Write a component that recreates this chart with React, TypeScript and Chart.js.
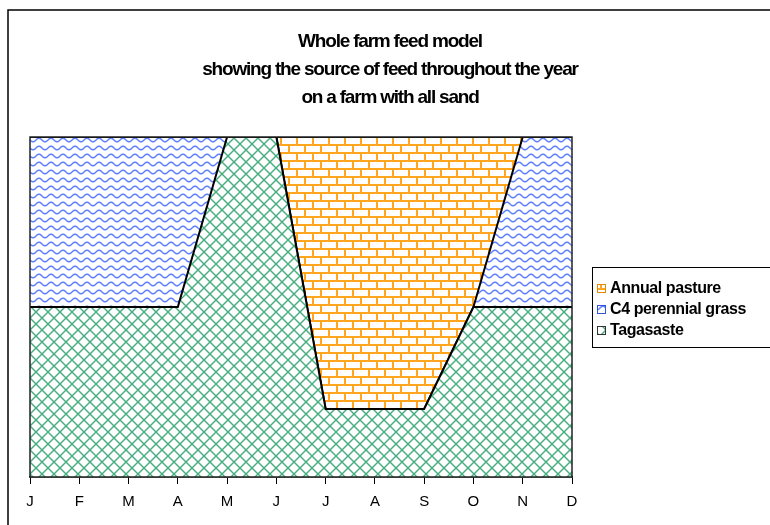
import React, { useEffect, useRef } from 'react';
import { Chart, registerables } from 'chart.js';

Chart.register(...registerables);

const months = ['J', 'F', 'M', 'A', 'M', 'J', 'J', 'A', 'S', 'O', 'N', 'D'];
const tagasaste = [50, 50, 50, 50, 100, 100, 20, 20, 20, 50, 50, 50];
const c4Grass = [50, 50, 50, 50, 0, 0, 0, 0, 0, 0, 50, 50];
const annualPasture = [0, 0, 0, 0, 0, 0, 80, 80, 80, 50, 0, 0];
const titleLines = [
  'Whole farm feed model',
  'showing the source of feed throughout the year',
  'on a farm with all sand',
];
const legendNames = ['Annual pasture', 'C4 perennial grass', 'Tagasaste'];

function makePattern(kind: string): CanvasPattern {
  const c = document.createElement('canvas');
  const g = c.getContext('2d')!;
  if (kind === 'cross') {
    c.width = 12;
    c.height = 12;
    g.fillStyle = '#ffffff';
    g.fillRect(0, 0, 12, 12);
    g.strokeStyle = '#45ad7e';
    g.lineWidth = 1.4;
    for (const k of [-12, 0, 12]) {
      g.beginPath();
      g.moveTo(k - 1, -1);
      g.lineTo(k + 13, 13);
      g.stroke();
      g.beginPath();
      g.moveTo(k + 13, -1);
      g.lineTo(k - 1, 13);
      g.stroke();
    }
  } else if (kind === 'wave') {
    c.width = 12;
    c.height = 8;
    g.fillStyle = '#ffffff';
    g.fillRect(0, 0, 12, 8);
    g.strokeStyle = '#5f80ff';
    g.lineWidth = 1.5;
    g.beginPath();
    for (let x = -1; x <= 13; x += 0.5) {
      const y = 4 - 1.8 * Math.sin((2 * Math.PI * x) / 12);
      if (x === -1) g.moveTo(x, y);
      else g.lineTo(x, y);
    }
    g.stroke();
  } else {
    c.width = 16;
    c.height = 16;
    g.fillStyle = '#ffffff';
    g.fillRect(0, 0, 16, 16);
    g.fillStyle = '#ffa51f';
    g.fillRect(0, 0, 16, 2);
    g.fillRect(0, 8, 16, 2);
    g.fillRect(0, 0, 2, 8);
    g.fillRect(8, 8, 2, 8);
  }
  return g.createPattern(c, 'repeat')!;
}

export default function App() {
  const ref = useRef<HTMLCanvasElement | null>(null);

  useEffect(() => {
    document.body.style.margin = '0';
    const canvas = ref.current!;
    const crossP = makePattern('cross');
    const waveP = makePattern('wave');
    const brickP = makePattern('brick');
    const legendFills = [brickP, waveP, crossP];
    const legendStrokes = ['#e68a00', '#3355dd', '#333333'];

    const decor = {
      id: 'decor',
      beforeDraw(chart: any) {
        const ctx = chart.ctx;
        ctx.save();
        ctx.fillStyle = '#ffffff';
        ctx.fillRect(0, 0, chart.width, chart.height);
        ctx.restore();
      },
      afterDraw(chart: any) {
        const ctx = chart.ctx;
        const a = chart.chartArea;
        ctx.save();
        // outer frame
        ctx.strokeStyle = '#000000';
        ctx.lineWidth = 1.5;
        ctx.strokeRect(8, 10, 900, 700);
        // plot border
        ctx.strokeStyle = '#222222';
        ctx.lineWidth = 1.5;
        ctx.strokeRect(a.left, a.top, a.right - a.left, a.bottom - a.top);
        // title
        ctx.fillStyle = '#000000';
        ctx.font = 'bold 19px "Liberation Sans", Arial, sans-serif';
        ctx.textAlign = 'center';
        ctx.textBaseline = 'middle';
        (ctx as any).letterSpacing = '-1.2px';
        const ty = [42, 70, 98];
        titleLines.forEach((t, i) => ctx.fillText(t, 390, ty[i]));
        (ctx as any).letterSpacing = '0px';
        // legend
        ctx.lineWidth = 1;
        ctx.strokeStyle = '#000000';
        ctx.strokeRect(592.5, 267.5, 300, 80);
        ctx.font = 'bold 16px "Liberation Sans", Arial, sans-serif';
        (ctx as any).letterSpacing = '-0.4px';
        ctx.textAlign = 'left';
        const ly = [288, 309, 330];
        legendNames.forEach((n, i) => {
          ctx.fillStyle = legendFills[i];
          ctx.fillRect(597, ly[i] - 4, 9, 9);
          ctx.strokeStyle = legendStrokes[i];
          ctx.strokeRect(597.5, ly[i] - 3.5, 8, 8);
          ctx.fillStyle = '#000000';
          ctx.fillText(n, 610, ly[i] + 1);
        });
        ctx.restore();
      },
    };

    const chart = new Chart(canvas, {
      type: 'line',
      data: {
        labels: months,
        datasets: [
          {
            label: 'Tagasaste',
            data: tagasaste,
            backgroundColor: crossP,
            borderColor: '#000000',
            borderWidth: 2,
            fill: 'origin',
            pointRadius: 0,
            tension: 0,
          },
          {
            label: 'C4 perennial grass',
            data: c4Grass,
            backgroundColor: waveP,
            borderColor: '#000000',
            borderWidth: 2,
            fill: '-1',
            pointRadius: 0,
            tension: 0,
          },
          {
            label: 'Annual pasture',
            data: annualPasture,
            backgroundColor: brickP,
            borderColor: '#000000',
            borderWidth: 2,
            fill: '-1',
            pointRadius: 0,
            tension: 0,
          },
        ],
      },
      options: {
        responsive: false,
        animation: false,
        layout: { padding: { left: 30, right: 198, top: 137, bottom: 5 } },
        plugins: {
          legend: { display: false },
          title: { display: false },
          tooltip: { enabled: false },
        },
        scales: {
          x: {
            offset: false,
            grid: {
              display: true,
              drawOnChartArea: false,
              drawTicks: true,
              tickLength: 7,
              color: '#000000',
            },
            border: { display: true, color: '#000000', width: 1.5 },
            ticks: {
              autoSkip: false,
              maxRotation: 0,
              padding: 9,
              color: '#000000',
              font: { family: '"Liberation Sans", Arial, sans-serif', size: 15 },
            },
          },
          y: {
            display: false,
            stacked: true,
            min: 0,
            max: 100,
          },
        },
      },
      plugins: [decor],
    });

    return () => chart.destroy();
  }, []);

  return (
    <div style={{ width: 770, height: 525 }}>
      <canvas ref={ref} width={770} height={525} style={{ display: 'block' }} />
    </div>
  );
}
